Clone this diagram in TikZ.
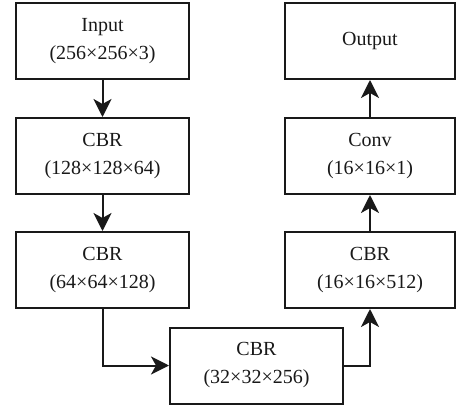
\documentclass[tikz,border=0pt]{standalone}
\usepackage{fontspec}
\setmainfont{Liberation Serif}
\newfontfamily\boxfont{Liberation Serif}
\usetikzlibrary{arrows.meta}
\begin{document}
\begin{tikzpicture}[x=1pt,y=-1pt,
  box/.style={draw=black!90, line width=2pt, minimum width=173pt, minimum height=76pt,
    inner sep=0pt, align=center, text=black!90, font=\boxfont\fontsize{20}{28}\selectfont},
  conn/.style={draw=black!90, line width=2pt, -{Stealth[length=18pt,width=18pt,inset=5pt]}}]
\useasboundingbox (0,0) rectangle (456,407);
\node[box] (in) at (102.5,41) {Input\\(256×256×3)};
\node[box] (c1) at (102.5,156) {CBR\\(128×128×64)};
\node[box] (c2) at (102.5,270) {CBR\\(64×64×128)};
\node[box] (c3) at (256.5,365.5) {CBR\\(32×32×256)};
\node[box, minimum width=170pt] (c4) at (370,270) {CBR\\(16×16×512)};
\node[box, minimum width=170pt] (cv) at (370,156) {Conv\\(16×16×1)};
\node[box, minimum width=170pt] (out) at (370,41) {Output};
\draw[conn] (in) -- (c1);
\draw[conn] (c1) -- (c2);
\draw[conn] (c2.south) |- (c3.west);
\draw[conn] (c3.east) -| (c4.south);
\draw[conn] (c4) -- (cv);
\draw[conn] (cv) -- (out);
\end{tikzpicture}
\end{document}
